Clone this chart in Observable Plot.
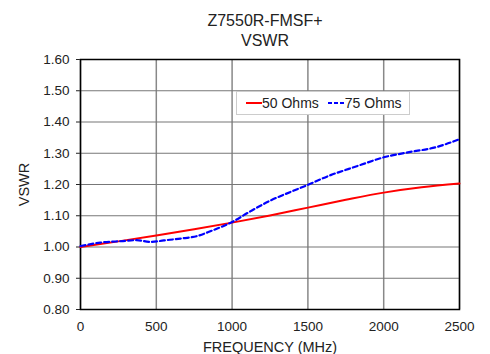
<!DOCTYPE html>
<html><head><meta charset="utf-8">
<script src="https://cdn.jsdelivr.net/npm/d3@7"></script>
<script src="https://cdn.jsdelivr.net/npm/@observablehq/plot@0.6"></script>
<style>
body{margin:0;background:#fff;font-family:"Liberation Sans",Arial,sans-serif;}
#wrap{position:relative;width:490px;height:354px;}
#title{position:absolute;left:165px;top:11px;width:200px;text-align:center;font-size:16px;line-height:19.5px;color:#222;}
#legend{position:absolute;left:236px;top:91px;width:174px;height:24px;border:1px solid #ccc;background:#fff;box-sizing:border-box;font-size:14px;display:flex;align-items:center;padding-left:9px;color:#222;}
#legend svg{display:block}
</style></head>
<body>
<div id="wrap">
<div id="title">Z7550R-FMSF+<br>VSWR</div>
<div id="chart"></div>
<div id="legend">
<svg width="16" height="10"><line x1="0" y1="5" x2="16" y2="5" stroke="#ff0000" stroke-width="2"/></svg><span>50 Ohms</span>
<svg width="17" height="10" style="margin-left:9px"><line x1="0" y1="5" x2="17" y2="5" stroke="#0000ff" stroke-width="2" stroke-dasharray="4,2"/></svg><span>75 Ohms</span>
</div>
</div>
<script>
const freq50 = [0, 250, 500, 750, 1000, 1250, 1500, 1750, 2000, 2250, 2500];
const vswr50 = [1.000, 1.018, 1.037, 1.057, 1.078, 1.101, 1.126, 1.151, 1.174, 1.191, 1.203];
const freq75 = [0, 130, 280, 370, 460, 550, 660, 770, 860, 1000, 1120, 1250, 1390, 1500, 1650, 1770, 1850, 2000, 2150, 2350, 2500];
const vswr75 = [1.003, 1.014, 1.019, 1.022, 1.016, 1.021, 1.027, 1.035, 1.051, 1.080, 1.114, 1.148, 1.177, 1.199, 1.230, 1.250, 1.263, 1.287, 1.302, 1.320, 1.345];
const xTicks = [0, 500, 1000, 1500, 2000, 2500];
const yTicks = [0.8, 0.9, 1.0, 1.1, 1.2, 1.3, 1.4, 1.5, 1.6];

const d50 = freq50.map((f, i) => ({f, v: vswr50[i]}));
const d75 = freq75.map((f, i) => ({f, v: vswr75[i]}));

const chart = Plot.plot({
  width: 490, height: 354,
  marginTop: 59, marginBottom: 45, marginLeft: 80, marginRight: 31,
  style: {fontFamily: '"Liberation Sans", Arial, sans-serif', fontSize: "13.5px", color: "#222", background: "#fff"},
  x: {domain: [0, 2500], ticks: xTicks, tickSize: 0, tickPadding: 12, tickFormat: d3.format("d"), label: "FREQUENCY (MHz)", labelAnchor: "center", labelArrow: "none", labelOffset: 42},
  y: {domain: [0.8, 1.6], ticks: yTicks, tickSize: 4, tickPadding: 7, tickFormat: d3.format(".2f"), label: "VSWR", labelAnchor: "center", labelArrow: "none", labelOffset: 62},
  marks: [
    Plot.gridX(xTicks, {stroke: "#888", strokeOpacity: 1, strokeWidth: 1.5}),
    Plot.gridY(yTicks, {stroke: "#777", strokeOpacity: 1, strokeWidth: 1.2}),
    Plot.frame({stroke: "#000", strokeWidth: 1.5}),
    Plot.line(d50, {x: "f", y: "v", stroke: "#ff0000", strokeWidth: 2, curve: "monotone-x"}),
    Plot.line(d75, {x: "f", y: "v", stroke: "#0000ff", strokeWidth: 2.2, strokeDasharray: "5,3", curve: "monotone-x"})
  ]
});
chart.querySelectorAll('[aria-label="x-axis label"] text, [aria-label="y-axis label"] text').forEach(t => t.style.fontSize = "14.5px");
document.getElementById("chart").appendChild(chart);
</script>
</body></html>
